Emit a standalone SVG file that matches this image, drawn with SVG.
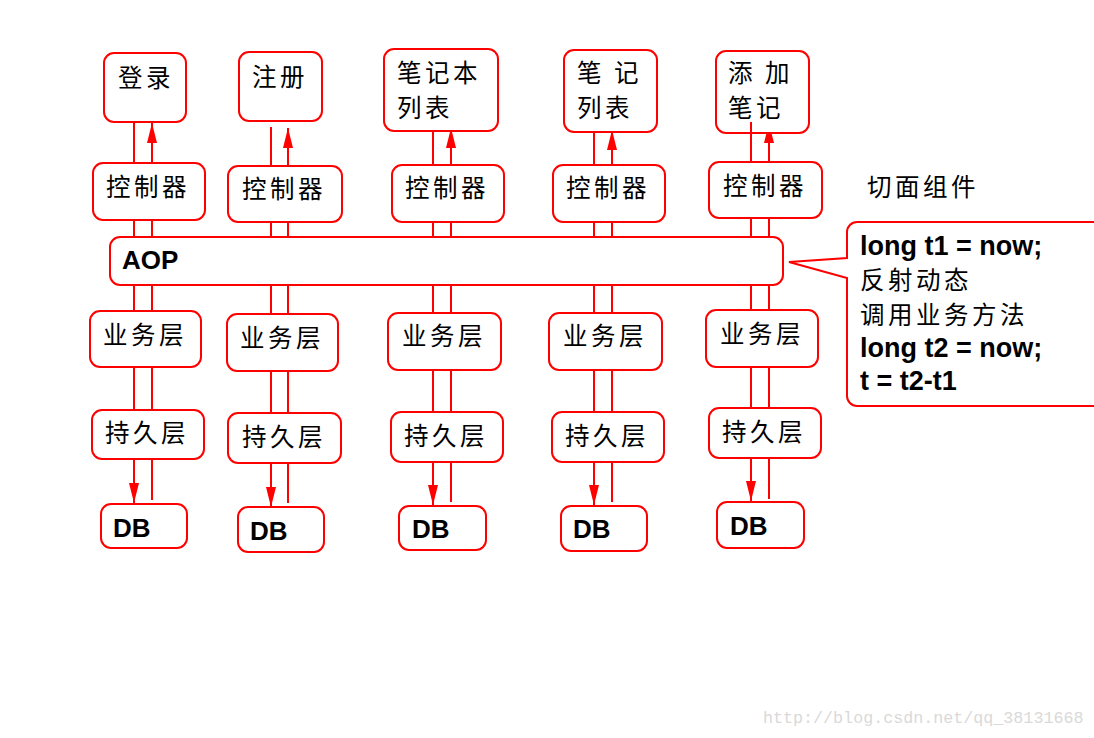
<svg xmlns="http://www.w3.org/2000/svg" width="1094" height="738" viewBox="0 0 1094 738">
<style>
.box{fill:#fff;stroke:#ff0000;stroke-width:2}
.ln{stroke:#ff0000;stroke-width:2;fill:none}
.arr{stroke:#ff0000;stroke-width:2;fill:none;marker-end:url(#ah)}
.cn{font-family:"Noto Sans CJK SC","Noto Sans CJK JP",sans-serif;font-size:24.5px;letter-spacing:3.5px;fill:#000}
.b{font-family:"Liberation Sans",Arial,sans-serif;font-weight:bold;font-size:26px;fill:#000}
.cb{font-family:"Liberation Sans",Arial,sans-serif;font-weight:bold;font-size:27px;fill:#000}
.wm{font-family:"Liberation Mono",monospace;font-size:16.7px;fill:#d9d9d9}
</style>
<defs>
<marker id="ah" viewBox="0 0 20 10" refX="20" refY="5" markerWidth="20" markerHeight="10" markerUnits="userSpaceOnUse" orient="auto">
<path d="M0,0 L20,5 L0,10 z" fill="#ff0000"/>
</marker>
</defs>
<rect width="1094" height="738" fill="#fff"/>
<g id="connectors">
<line class="ln" x1="134" y1="163" x2="134" y2="122"/>
<line class="arr" x1="152" y1="163" x2="152" y2="123"/>
<line class="ln" x1="134" y1="220" x2="134" y2="410"/>
<line class="ln" x1="152" y1="220" x2="152" y2="410"/>
<line class="arr" x1="134" y1="459" x2="134" y2="503"/>
<line class="ln" x1="152" y1="459" x2="152" y2="500"/>
<line class="ln" x1="271" y1="166" x2="271" y2="127"/>
<line class="arr" x1="288" y1="166" x2="288" y2="128"/>
<line class="ln" x1="271" y1="222" x2="271" y2="413"/>
<line class="ln" x1="288" y1="222" x2="288" y2="413"/>
<line class="arr" x1="271" y1="463" x2="271" y2="507"/>
<line class="ln" x1="288" y1="463" x2="288" y2="503"/>
<line class="ln" x1="433" y1="165" x2="433" y2="131"/>
<line class="arr" x1="451" y1="165" x2="451" y2="128"/>
<line class="ln" x1="433" y1="222" x2="433" y2="412"/>
<line class="ln" x1="451" y1="222" x2="451" y2="412"/>
<line class="arr" x1="433" y1="462" x2="433" y2="505"/>
<line class="ln" x1="451" y1="462" x2="451" y2="502"/>
<line class="ln" x1="594" y1="165" x2="594" y2="132"/>
<line class="arr" x1="612" y1="165" x2="612" y2="130"/>
<line class="ln" x1="594" y1="222" x2="594" y2="412"/>
<line class="ln" x1="612" y1="222" x2="612" y2="412"/>
<line class="arr" x1="594" y1="462" x2="594" y2="505"/>
<line class="ln" x1="612" y1="462" x2="612" y2="502"/>
<line class="arr" x1="769" y1="162" x2="769" y2="123"/>
<line class="ln" x1="751" y1="218" x2="751" y2="408"/>
<line class="ln" x1="769" y1="218" x2="769" y2="408"/>
<line class="arr" x1="751" y1="458" x2="751" y2="501"/>
<line class="ln" x1="769" y1="458" x2="769" y2="499"/>
</g>
<g id="aop">
<rect class="box" x="110" y="237" width="673" height="48" rx="10"/>
<text class="b" x="122" y="269" font-size="25">AOP</text>
</g>
<g id="c1-top"><rect class="box" x="104" y="53" width="82" height="69" rx="10"/><text class="cn" x="118" y="87">登录</text></g>
<g id="c1-ctrl"><rect class="box" x="93" y="163" width="112" height="57" rx="10"/><text class="cn" x="106" y="196">控制器</text></g>
<g id="c1-biz"><rect class="box" x="90" y="311" width="111" height="56" rx="10"/><text class="cn" x="103" y="344">业务层</text></g>
<g id="c1-per"><rect class="box" x="92" y="410" width="112" height="49" rx="10"/><text class="cn" x="105" y="442">持久层</text></g>
<g id="c1-db"><rect class="box" x="101" y="504" width="86" height="44" rx="10"/><text class="b" x="113" y="537">DB</text></g>

<g id="c2-top"><rect class="box" x="239" y="52" width="83" height="69" rx="10"/><text class="cn" x="252" y="86">注册</text></g>
<g id="c2-ctrl"><rect class="box" x="228" y="166" width="114" height="56" rx="10"/><text class="cn" x="242" y="198">控制器</text></g>
<g id="c2-biz"><rect class="box" x="227" y="314" width="111" height="57" rx="10"/><text class="cn" x="240" y="347">业务层</text></g>
<g id="c2-per"><rect class="box" x="228" y="413" width="113" height="50" rx="10"/><text class="cn" x="242" y="446">持久层</text></g>
<g id="c2-db"><rect class="box" x="238" y="507" width="86" height="45" rx="10"/><text class="b" x="250" y="540">DB</text></g>

<g id="c3-top"><rect class="box" x="384" y="49" width="114" height="82" rx="10"/><text class="cn" x="397" y="82">笔记本</text><text class="cn" x="397" y="117">列表</text></g>
<g id="c3-ctrl"><rect class="box" x="392" y="165" width="112" height="57" rx="10"/><text class="cn" x="405" y="197">控制器</text></g>
<g id="c3-biz"><rect class="box" x="388" y="313" width="113" height="57" rx="10"/><text class="cn" x="402" y="345">业务层</text></g>
<g id="c3-per"><rect class="box" x="391" y="412" width="112" height="50" rx="10"/><text class="cn" x="404" y="445">持久层</text></g>
<g id="c3-db"><rect class="box" x="399" y="506" width="87" height="44" rx="10"/><text class="b" x="412" y="538">DB</text></g>

<g id="c4-top"><rect class="box" x="564" y="50" width="93" height="82" rx="10"/><text class="cn" x="577" y="82" letter-spacing="1">笔 记</text><text class="cn" x="577" y="117">列表</text></g>
<g id="c4-ctrl"><rect class="box" x="553" y="165" width="112" height="57" rx="10"/><text class="cn" x="566" y="197">控制器</text></g>
<g id="c4-biz"><rect class="box" x="549" y="313" width="113" height="57" rx="10"/><text class="cn" x="563" y="345">业务层</text></g>
<g id="c4-per"><rect class="box" x="552" y="412" width="112" height="50" rx="10"/><text class="cn" x="565" y="445">持久层</text></g>
<g id="c4-db"><rect class="box" x="561" y="506" width="86" height="45" rx="10"/><text class="b" x="573" y="538">DB</text></g>

<g id="c5-top"><rect class="box" x="716" y="51" width="93" height="82" rx="10"/><text class="cn" x="728" y="82" letter-spacing="2">添 加</text><text class="cn" x="728" y="117">笔记</text></g>
<line class="ln" x1="751" y1="162" x2="751" y2="122"/>
<g id="c5-ctrl"><rect class="box" x="709" y="162" width="113" height="56" rx="10"/><text class="cn" x="723" y="195">控制器</text></g>
<g id="c5-biz"><rect class="box" x="706" y="310" width="112" height="57" rx="10"/><text class="cn" x="720" y="343">业务层</text></g>
<g id="c5-per"><rect class="box" x="709" y="408" width="112" height="50" rx="10"/><text class="cn" x="722" y="441">持久层</text></g>
<g id="c5-db"><rect class="box" x="717" y="502" width="87" height="46" rx="10"/><text class="b" x="730" y="535">DB</text></g>

<g id="aspect-label"><text class="cn" x="867" y="196">切面组件</text></g>
<g id="callout">
<path class="box" d="M1110,222 H857 A10,10 0 0 0 847,232 V258 L789,262 L847,278 V396 A10,10 0 0 0 857,406 H1110"/>
<text class="cb" x="860" y="255">long t1 = now;</text>
<text class="cn" x="860" y="289">反射动态</text>
<text class="cn" x="860" y="324">调用业务方法</text>
<text class="cb" x="860" y="357">long t2 = now;</text>
<text class="cb" x="860" y="390">t = t2-t1</text>
</g>
<text class="wm" x="763" y="723">http://blog.csdn.net/qq_38131668</text>
</svg>
